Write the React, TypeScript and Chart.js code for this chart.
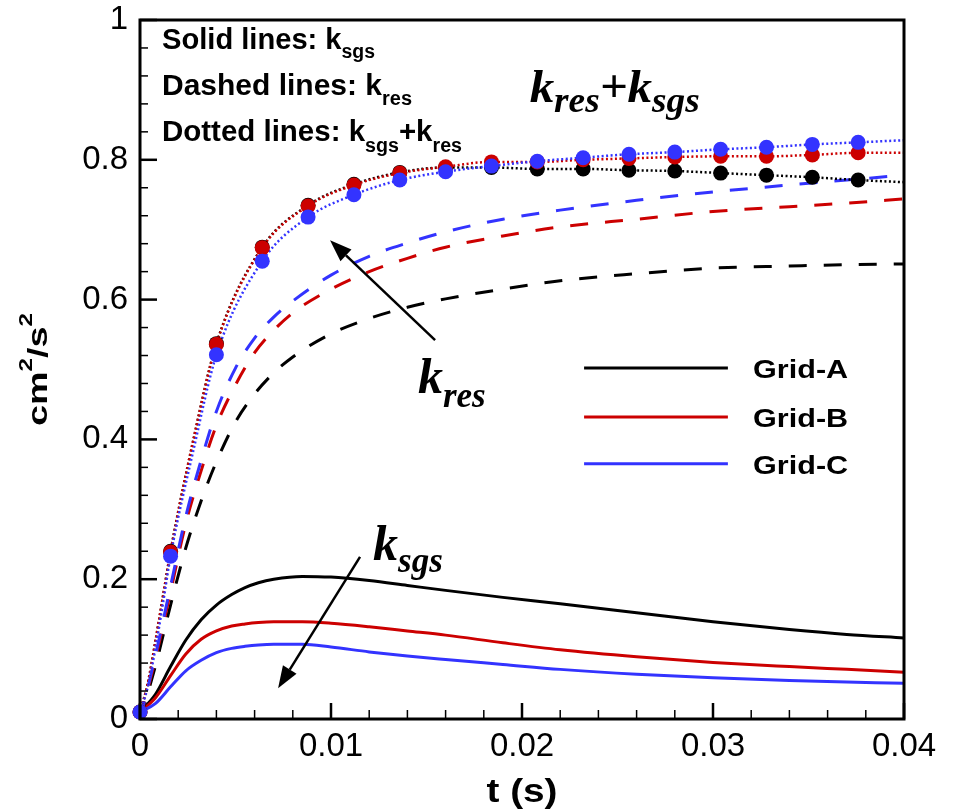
import React, { useEffect, useRef } from 'react';
import { Chart, registerables } from 'chart.js';

Chart.register(...registerables);

// ---------------- data ----------------
const gridNames = ['Grid-A', 'Grid-B', 'Grid-C'];
const gridColors = ['#000000', '#cc0000', '#3333ff'];

// k_sgs (solid)
const tSgs = [0, 0.0008, 0.0016, 0.0024, 0.0032, 0.004, 0.0048, 0.0055, 0.0062, 0.007, 0.0085, 0.01, 0.012, 0.014, 0.016, 0.019, 0.022, 0.026, 0.03, 0.034, 0.037, 0.04];
const sgsA = [0.01, 0.035, 0.075, 0.113, 0.142, 0.163, 0.178, 0.188, 0.195, 0.2, 0.204, 0.203, 0.198, 0.191, 0.184, 0.174, 0.165, 0.152, 0.139, 0.128, 0.121, 0.116];
const sgsB = [0.01, 0.03, 0.062, 0.093, 0.114, 0.126, 0.133, 0.136, 0.138, 0.139, 0.139, 0.137, 0.132, 0.126, 0.12, 0.109, 0.099, 0.089, 0.081, 0.075, 0.071, 0.067];
const sgsC = [0.01, 0.022, 0.046, 0.069, 0.084, 0.095, 0.101, 0.104, 0.106, 0.107, 0.107, 0.103, 0.096, 0.09, 0.085, 0.078, 0.071, 0.064, 0.059, 0.055, 0.053, 0.051];

// k_res (dashed)
const tRes = [0, 0.0008, 0.0016, 0.0024, 0.0032, 0.004, 0.005, 0.006, 0.007, 0.008, 0.01, 0.012, 0.014, 0.016, 0.019, 0.022, 0.026, 0.03, 0.034, 0.037, 0.04];
const resA = [0.0, 0.075, 0.163, 0.245, 0.312, 0.368, 0.425, 0.465, 0.495, 0.518, 0.551, 0.573, 0.589, 0.601, 0.615, 0.627, 0.637, 0.645, 0.648, 0.65, 0.651];
const resB = [0.0, 0.085, 0.182, 0.28, 0.355, 0.42, 0.478, 0.524, 0.556, 0.581, 0.615, 0.64, 0.659, 0.675, 0.691, 0.704, 0.715, 0.726, 0.733, 0.738, 0.744];
const resC = [0.0, 0.09, 0.19, 0.29, 0.37, 0.44, 0.502, 0.545, 0.575, 0.598, 0.635, 0.662, 0.681, 0.697, 0.715, 0.728, 0.742, 0.754, 0.764, 0.771, 0.778];

// k_sgs + k_res (dotted)
const tSum = [0, 0.0004, 0.0008, 0.0012, 0.0016, 0.0028, 0.004, 0.0064, 0.0088, 0.0112, 0.0136, 0.016, 0.0184, 0.0208, 0.0232, 0.0256, 0.028, 0.0304, 0.0328, 0.0352, 0.0376, 0.04];
const sumA = [0.01, 0.05, 0.11, 0.175, 0.24, 0.4, 0.537, 0.675, 0.735, 0.765, 0.782, 0.789, 0.789, 0.787, 0.787, 0.785, 0.784, 0.781, 0.778, 0.775, 0.771, 0.768];
const sumB = [0.01, 0.05, 0.11, 0.175, 0.239, 0.4, 0.536, 0.674, 0.734, 0.764, 0.781, 0.79, 0.797, 0.797, 0.8, 0.802, 0.804, 0.805, 0.805, 0.807, 0.81, 0.81];
const sumC = [0.01, 0.045, 0.1, 0.165, 0.233, 0.385, 0.521, 0.655, 0.718, 0.75, 0.771, 0.783, 0.791, 0.798, 0.803, 0.808, 0.811, 0.815, 0.818, 0.822, 0.825, 0.828];

// symbols on the dotted lines
const tMark = [0, 0.0016, 0.004, 0.0064, 0.0088, 0.0112, 0.0136, 0.016, 0.0184, 0.0208, 0.0232, 0.0256, 0.028, 0.0304, 0.0328, 0.0352, 0.0376];
const markA = [0.01, 0.24, 0.537, 0.675, 0.735, 0.765, 0.782, 0.789, 0.789, 0.787, 0.787, 0.785, 0.784, 0.781, 0.778, 0.775, 0.771];
const markB = [0.01, 0.239, 0.536, 0.674, 0.734, 0.764, 0.781, 0.79, 0.797, 0.797, 0.8, 0.802, 0.804, 0.805, 0.805, 0.807, 0.81];
const markC = [0.01, 0.233, 0.521, 0.655, 0.718, 0.75, 0.771, 0.783, 0.791, 0.798, 0.803, 0.808, 0.811, 0.815, 0.818, 0.822, 0.825];

const xTicks = [0, 0.01, 0.02, 0.03, 0.04];
const yTicks = [0, 0.2, 0.4, 0.6, 0.8, 1];
const xTitle = 't (s)';

// ---------------- fonts ----------------
const SANS = '"Liberation Sans", Arial, Helvetica, sans-serif';
const SERIF = '"Liberation Serif", "Times New Roman", serif';

type Seg = { s: string; font: string; dy?: number };

function segWidth(ctx: CanvasRenderingContext2D, segs: Seg[]) {
  let w = 0;
  for (const g of segs) {
    ctx.font = g.font;
    w += ctx.measureText(g.s).width;
  }
  return w;
}

function drawRich(ctx: CanvasRenderingContext2D, segs: Seg[], x: number, y: number, target?: number) {
  const w = segWidth(ctx, segs);
  const sx = target ? target / w : 1;
  ctx.save();
  ctx.translate(x, y);
  ctx.scale(sx, 1);
  ctx.textAlign = 'left';
  ctx.textBaseline = 'alphabetic';
  let cx = 0;
  for (const g of segs) {
    ctx.font = g.font;
    ctx.fillText(g.s, cx, g.dy || 0);
    cx += ctx.measureText(g.s).width;
  }
  ctx.restore();
}

function arrow(ctx: CanvasRenderingContext2D, x1: number, y1: number, x2: number, y2: number) {
  const ang = Math.atan2(y2 - y1, x2 - x1);
  const L = 22, W = 8;
  const bx = x2 - L * Math.cos(ang), by = y2 - L * Math.sin(ang);
  ctx.beginPath();
  ctx.moveTo(x1, y1);
  ctx.lineTo(bx, by);
  ctx.lineWidth = 2.5;
  ctx.strokeStyle = '#000';
  ctx.stroke();
  ctx.beginPath();
  ctx.moveTo(x2, y2);
  ctx.lineTo(bx + W * Math.sin(ang), by - W * Math.cos(ang));
  ctx.lineTo(bx - W * Math.sin(ang), by + W * Math.cos(ang));
  ctx.closePath();
  ctx.fillStyle = '#000';
  ctx.fill();
}

const decor = {
  id: 'decor',
  afterDatasetsDraw(chart: any) {
    const { ctx, chartArea: a, scales } = chart;
    const sx = scales.x, sy = scales.y;
    const px = (t: number) => sx.getPixelForValue(t);
    const py = (v: number) => sy.getPixelForValue(v);
    ctx.save();

    // frame
    ctx.strokeStyle = '#000';
    ctx.lineWidth = 3;
    ctx.strokeRect(a.left, a.top, a.right - a.left, a.bottom - a.top);

    // inward ticks (y: major 0.2, minor 0.04 ; x: major 0.01, minor 0.002)
    for (let i = 0; i <= 25; i++) {
      const v = i * 0.04;
      const major = i % 5 === 0;
      const yy = py(v);
      ctx.lineWidth = major ? 2.5 : 1.5;
      ctx.beginPath();
      ctx.moveTo(a.left, yy);
      ctx.lineTo(a.left + (major ? 17 : 8), yy);
      ctx.stroke();
    }
    for (let i = 0; i <= 20; i++) {
      const t = i * 0.002;
      const major = i % 5 === 0;
      const xx = px(t);
      ctx.lineWidth = major ? 2.5 : 1.5;
      ctx.beginPath();
      ctx.moveTo(xx, a.bottom);
      ctx.lineTo(xx, a.bottom - (major ? 16 : 9));
      ctx.stroke();
    }

    ctx.fillStyle = '#000';

    // note box text
    const main = `bold 30px ${SANS}`;
    const sub = `bold 20px ${SANS}`;
    drawRich(ctx, [{ s: 'Solid lines: k', font: main }, { s: 'sgs', font: sub, dy: 9 }], a.left + 22, a.top + 29, 213);
    drawRich(ctx, [{ s: 'Dashed lines: k', font: main }, { s: 'res', font: sub, dy: 10 }], a.left + 22, a.top + 75, 250);
    drawRich(
      ctx,
      [
        { s: 'Dotted lines: k', font: main },
        { s: 'sgs', font: sub, dy: 11 },
        { s: '+k', font: main },
        { s: 'res', font: sub, dy: 11 },
      ],
      a.left + 22,
      a.top + 121,
      300
    );

    // big serif labels
    const K = `italic bold 46px ${SERIF}`;
    const K2 = `italic bold 50px ${SERIF}`;
    const S = `italic bold 35px ${SERIF}`;
    drawRich(
      ctx,
      [
        { s: 'k', font: K },
        { s: 'res', font: S, dy: 10 },
        { s: '+', font: K },
        { s: 'k', font: K },
        { s: 'sgs', font: S, dy: 10 },
      ],
      px(0.0204),
      py(0.882),
      170
    );
    drawRich(ctx, [{ s: 'k', font: K2 }, { s: 'res', font: S, dy: 14 }], px(0.01455), py(0.466));
    drawRich(ctx, [{ s: 'k', font: K2 }, { s: 'sgs', font: S, dy: 12 }], px(0.0122), py(0.227));

    // arrows
    arrow(ctx, px(0.01545), py(0.542), px(0.00995), py(0.685));
    arrow(ctx, px(0.01152), py(0.232), px(0.00723), py(0.044));

    // legend
    const legY = [0.502, 0.432, 0.365];
    for (let g = 0; g < 3; g++) {
      const yy = py(legY[g]);
      ctx.strokeStyle = gridColors[g];
      ctx.lineWidth = 3;
      ctx.beginPath();
      ctx.moveTo(px(0.02325), yy);
      ctx.lineTo(px(0.03078), yy);
      ctx.stroke();
      ctx.fillStyle = '#000';
      drawRich(ctx, [{ s: gridNames[g], font: `bold 26px ${SANS}` }], px(0.0321), yy + 10, 95);
    }

    // axis titles
    ctx.fillStyle = '#000';
    const xt: Seg[] = [{ s: xTitle, font: `bold 34px ${SANS}` }];
    const xw = 71;
    drawRich(ctx, xt, (a.left + a.right) / 2 - xw / 2, 802, xw);

    const yt: Seg[] = [
      { s: 'cm', font: `bold 28px ${SANS}` },
      { s: '2', font: `bold 18px ${SANS}`, dy: -15 },
      { s: '/s', font: `bold 28px ${SANS}` },
      { s: '2', font: `bold 18px ${SANS}`, dy: -15 },
    ];
    const yl = 113;
    ctx.save();
    ctx.translate(47, (a.top + a.bottom) / 2 + yl / 2);
    ctx.rotate(-Math.PI / 2);
    drawRich(ctx, yt, 0, 0, yl);
    ctx.restore();

    ctx.restore();
  },
};

const fmt = (v: number) => String(Number(v.toFixed(3)));

export default function App() {
  const ref = useRef<HTMLCanvasElement>(null);

  useEffect(() => {
    const canvas = ref.current;
    if (!canvas) return;
    const pts = (ts: number[], vs: number[]) => ts.map((t, i) => ({ x: t, y: vs[i] }));
    const sgs = [sgsA, sgsB, sgsC];
    const res = [resA, resB, resC];
    const sum = [sumA, sumB, sumC];
    const mk = [markA, markB, markC];

    const datasets: any[] = [];
    for (let g = 0; g < 3; g++) {
      datasets.push({
        label: gridNames[g] + ' symbols',
        data: pts(tMark, mk[g]),
        showLine: false,
        pointRadius: 7.5,
        pointHoverRadius: 7.5,
        pointBackgroundColor: gridColors[g],
        pointBorderColor: gridColors[g],
        pointBorderWidth: 0,
        clip: false,
        order: 2 - g,
      });
      datasets.push({
        label: gridNames[g] + ' sum',
        data: pts(tSum, sum[g]),
        borderColor: gridColors[g],
        borderWidth: 2.5,
        borderDash: [2, 2.5],
        pointRadius: 0,
        cubicInterpolationMode: 'monotone',
        fill: false,
        order: 12 - g,
      });
      datasets.push({
        label: gridNames[g] + ' res',
        data: pts(tRes, res[g]),
        borderColor: gridColors[g],
        borderWidth: 3,
        borderDash: [18, 17],
        pointRadius: 0,
        cubicInterpolationMode: 'monotone',
        fill: false,
        order: 22 - g,
      });
      datasets.push({
        label: gridNames[g],
        data: pts(tSgs, sgs[g]),
        borderColor: gridColors[g],
        borderWidth: 3,
        pointRadius: 0,
        cubicInterpolationMode: 'monotone',
        fill: false,
        order: 32 - g,
      });
    }

    const chart = new Chart(canvas, {
      type: 'line',
      data: { datasets },
      options: {
        animation: false,
        responsive: false,
        devicePixelRatio: 1,
        layout: { padding: { top: 20, right: 51, left: 0, bottom: 0 } },
        plugins: { legend: { display: false }, tooltip: { enabled: false }, title: { display: false } },
        scales: {
          x: {
            type: 'linear',
            min: 0,
            max: 0.04,
            grid: { display: false, drawTicks: false },
            border: { display: false },
            afterBuildTicks: (s: any) => {
              s.ticks = xTicks.map((v) => ({ value: v }));
            },
            afterFit: (s: any) => {
              s.height = 91;
              s.paddingLeft = 0;
              s.paddingRight = 0;
            },
            ticks: {
              color: '#000',
              padding: 8,
              maxRotation: 0,
              autoSkip: false,
              font: { family: SANS, size: 33 },
              callback: (v: any) => fmt(Number(v)),
            },
          },
          y: {
            type: 'linear',
            min: 0,
            max: 1,
            grid: { display: false, drawTicks: false },
            border: { display: false },
            afterBuildTicks: (s: any) => {
              s.ticks = yTicks.map((v) => ({ value: v }));
            },
            afterFit: (s: any) => {
              s.width = 140;
              s.paddingTop = 0;
              s.paddingBottom = 0;
            },
            ticks: {
              color: '#000',
              padding: 12,
              autoSkip: false,
              font: { family: SANS, size: 33 },
              callback: (v: any) => fmt(Number(v)),
            },
          },
        },
      },
      plugins: [decor],
    });
    return () => chart.destroy();
  }, []);

  return (
    <div style={{ position: 'absolute', left: 0, top: 0, width: 955, height: 810, background: '#fff' }}>
      <canvas ref={ref} width={955} height={810} style={{ width: 955, height: 810, display: 'block' }} />
    </div>
  );
}
